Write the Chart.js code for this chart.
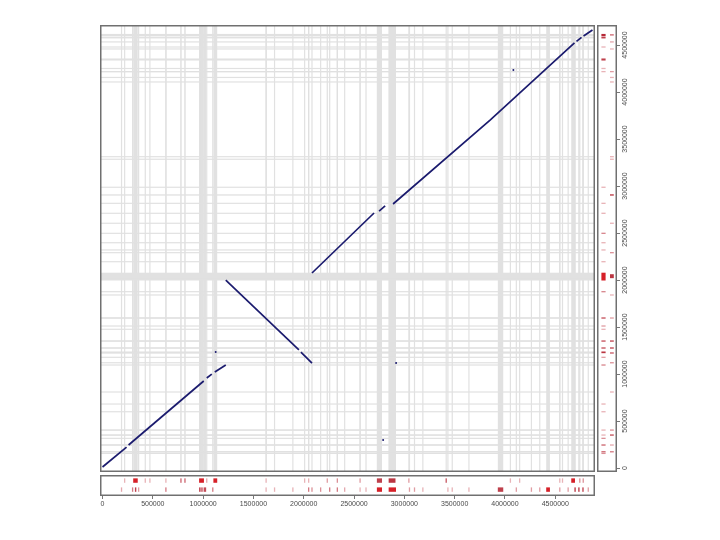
<!DOCTYPE html>
<html>
<head>
<meta charset="utf-8">
<script src="https://cdn.jsdelivr.net/npm/chart.js@4.4.1/dist/chart.umd.min.js"></script>
<style>
  html, body { margin: 0; padding: 0; background: #ffffff; }
  body { width: 720px; height: 540px; position: relative; overflow: hidden; }
  canvas { position: absolute; display: block; }
</style>
</head>
<body>
<canvas id="main" width="495" height="447" style="left:100px;top:25px"></canvas>
<canvas id="bottom" width="540" height="39" style="left:80px;top:475px"></canvas>
<canvas id="right" width="45" height="487" style="left:597px;top:5px"></canvas>
<script>
// ---------------- DATA ----------------
// tick labels (genome positions)
const xTicks = [0, 500000, 1000000, 1500000, 2000000, 2500000, 3000000, 3500000, 4000000, 4500000];
const yTicks = [0, 500000, 1000000, 1500000, 2000000, 2500000, 3000000, 3500000, 4000000, 4500000];

// alignment pieces: [x (query), y (reference)] vertices
const forwardBlock1 = [
  [[0, 11000], [239000, 223000]],
  [[259000, 245000], [1006000, 926000]],
  [[1036000, 958000], [1086000, 1000000]],
  [[1116000, 1021000], [1225000, 1096000]]
];
const invertedBlock = [
  [[1225000, 2000000], [1952000, 1256000]],
  [[1972000, 1234000], [2082000, 1117000]]
];
const forwardBlock2 = [
  [[2082000, 2075000], [2699000, 2713000]],
  [[2749000, 2734000], [2809000, 2788000]],
  [[2888000, 2809000], [3855000, 3703000], [4691000, 4522000]],
  [[4711000, 4538000], [4761000, 4581000]],
  [[4781000, 4596000], [4870000, 4660000]]
];
const strayHits = [[4084000, 4235000], [2789000, 298000], [2918000, 1117000], [1125000, 1234000]];

// bottom track (x genome): [start, end, intensity]
const xTrackRow1 = [
  [214000, 226000, 0.35], [305000, 350000, 1], [420000, 430000, 0.35], [466000, 476000, 0.35],
  [625000, 635000, 0.35], [772000, 787000, 0.6], [812000, 827000, 0.6], [960000, 1008000, 1],
  [1031000, 1041000, 0.4], [1102000, 1140000, 1], [1621000, 1631000, 0.35], [2004000, 2014000, 0.35],
  [2044000, 2054000, 0.35], [2229000, 2239000, 0.45], [2329000, 2339000, 0.5], [2555000, 2565000, 0.45],
  [2727000, 2778000, 0.85], [2844000, 2912000, 0.9], [3040000, 3050000, 0.45], [3410000, 3422000, 0.75],
  [4049000, 4059000, 0.35], [4141000, 4151000, 0.35], [4540000, 4550000, 0.35], [4567000, 4577000, 0.35],
  [4659000, 4696000, 1], [4739000, 4749000, 0.5], [4773000, 4783000, 0.5]
];
const xTrackRow2 = [
  [184000, 194000, 0.4], [294000, 304000, 0.6], [322000, 336000, 0.85], [354000, 364000, 0.45],
  [625000, 635000, 0.6], [960000, 975000, 0.85], [982000, 995000, 0.85], [1005000, 1030000, 0.8],
  [1091000, 1101000, 0.6], [1621000, 1631000, 0.35], [1705000, 1715000, 0.35], [1887000, 1897000, 0.35],
  [2044000, 2054000, 0.6], [2077000, 2087000, 0.5], [2163000, 2173000, 0.5], [2253000, 2263000, 0.6],
  [2329000, 2339000, 0.6], [2402000, 2412000, 0.4], [2555000, 2565000, 0.35], [2614000, 2624000, 0.35],
  [2727000, 2778000, 1], [2844000, 2917000, 1], [3046000, 3056000, 0.45], [3096000, 3106000, 0.45],
  [3179000, 3189000, 0.35], [3428000, 3438000, 0.35], [3471000, 3481000, 0.35], [3637000, 3647000, 0.35],
  [3929000, 3983000, 0.85], [4108000, 4118000, 0.45], [4258000, 4268000, 0.45], [4341000, 4351000, 0.45],
  [4410000, 4447000, 1], [4540000, 4550000, 0.45], [4623000, 4633000, 0.45], [4690000, 4704000, 0.85],
  [4728000, 4742000, 0.85], [4768000, 4783000, 0.75], [4823000, 4833000, 0.45]
];

// right track (y genome): [start, end, intensity]
const yTrackCol1 = [
  [4596000, 4618000, 0.95], [4570000, 4590000, 0.85], [4474000, 4484000, 0.35], [4335000, 4357000, 0.85],
  [4245000, 4256000, 0.35], [4212000, 4222000, 0.35], [2982000, 2992000, 0.35], [2811000, 2821000, 0.35],
  [2705000, 2715000, 0.35], [2492000, 2502000, 0.55], [2392000, 2402000, 0.35], [2315000, 2325000, 0.35],
  [2190000, 2200000, 0.35], [1995000, 2078000, 1], [1871000, 1881000, 0.55], [1590000, 1602000, 0.8],
  [1506000, 1516000, 0.45], [1471000, 1481000, 0.35], [1345000, 1357000, 0.8], [1271000, 1283000, 0.8],
  [1222000, 1240000, 0.9], [1173000, 1183000, 0.45], [1091000, 1101000, 0.55], [676000, 686000, 0.35],
  [594000, 604000, 0.35], [399000, 409000, 0.35], [346000, 356000, 0.35], [311000, 321000, 0.5],
  [240000, 250000, 0.7], [168000, 178000, 0.7], [151000, 161000, 0.5]
];
const yTrackCol2 = [
  [4600000, 4616000, 0.6], [4528000, 4538000, 0.4], [4453000, 4463000, 0.35], [4212000, 4222000, 0.45],
  [4150000, 4160000, 0.35], [4102000, 4112000, 0.35], [3307000, 3317000, 0.35], [3280000, 3290000, 0.35],
  [2898000, 2912000, 0.9], [2599000, 2609000, 0.35], [2286000, 2296000, 0.5], [2020000, 2062000, 0.9],
  [1836000, 1846000, 0.35], [1591000, 1601000, 0.45], [1346000, 1356000, 0.85], [1272000, 1282000, 0.85],
  [1219000, 1229000, 0.75], [1115000, 1125000, 0.5], [804000, 814000, 0.35], [399000, 409000, 0.5],
  [346000, 356000, 0.8], [240000, 250000, 0.4], [168000, 178000, 0.6]
];

// ---------------- CONFIG ----------------
const X_MIN = -25000, X_MAX = 4895000;
const Y_MIN = -42000, Y_MAX = 4713000;
const LINE_COLOR = '#1b1b6e';
const BAND_COLOR = '#e1e1e1';
const BOX_COLOR = '#707070';
const TEXT_COLOR = '#4a4a4a';
const FONT = { family: 'Liberation Sans, Arial, sans-serif', size: 7 };

function markColor(t) {
  const a = [236, 190, 194], b = [178, 30, 44];
  const k = Math.max(0, Math.min(1, (t - 0.3) / 0.7));
  const c = a.map((v, i) => Math.round(v + (b[i] - v) * k));
  if (t >= 1) return 'rgb(214,32,40)';
  return `rgb(${c[0]},${c[1]},${c[2]})`;
}

const boxPlugin = {
  id: 'box',
  afterDraw(chart) {
    const { ctx, chartArea: a } = chart;
    ctx.save();
    ctx.strokeStyle = BOX_COLOR;
    ctx.lineWidth = 1.5;
    ctx.strokeRect(a.left + 0.75, a.top + 0.75, a.right - a.left - 1.5, a.bottom - a.top - 1.5);
    ctx.restore();
  }
};

// main plot bands (vertical from x track, horizontal from y track)
const vBands = xTrackRow1.concat(xTrackRow2);
const hBands = yTrackCol1.concat(yTrackCol2);

const bandPlugin = {
  id: 'bands',
  beforeDatasetsDraw(chart) {
    const { ctx, chartArea: a, scales: { x, y } } = chart;
    ctx.save();
    ctx.fillStyle = BAND_COLOR;
    vBands.forEach(([s, e]) => {
      const p0 = x.getPixelForValue(s), p1 = x.getPixelForValue(e);
      const w = Math.max(1.2, p1 - p0);
      ctx.fillRect((p0 + p1) / 2 - w / 2, a.top, w, a.bottom - a.top);
    });
    hBands.forEach(([s, e]) => {
      const p0 = y.getPixelForValue(e), p1 = y.getPixelForValue(s);
      const h = Math.max(1.2, p1 - p0);
      ctx.fillRect(a.left, (p0 + p1) / 2 - h / 2, a.right - a.left, h);
    });
    ctx.restore();
  }
};

const lineSets = [];
[forwardBlock1, invertedBlock, forwardBlock2].forEach(block => {
  block.forEach(piece => {
    lineSets.push({
      type: 'scatter',
      data: piece.map(([px, py]) => ({ x: px, y: py })),
      showLine: true,
      borderColor: LINE_COLOR,
      borderWidth: 1.7,
      pointRadius: 0,
      fill: false
    });
  });
});
lineSets.push({
  type: 'scatter',
  data: strayHits.map(([px, py]) => ({ x: px, y: py })),
  showLine: false,
  pointRadius: 1,
  pointBackgroundColor: LINE_COLOR,
  pointBorderWidth: 0
});

const common = {
  responsive: false,
  animation: false,
  events: [],
  plugins: { legend: { display: false }, tooltip: { enabled: false } }
};

new Chart(document.getElementById('main'), {
  type: 'scatter',
  data: { datasets: lineSets },
  options: Object.assign({}, common, {
    layout: { autoPadding: false, padding: 0 },
    scales: {
      x: { type: 'linear', min: X_MIN, max: X_MAX, display: false },
      y: { type: 'linear', min: Y_MIN, max: Y_MAX, display: false }
    }
  }),
  plugins: [bandPlugin, boxPlugin]
});

const xTrackPlugin = {
  id: 'xtrack',
  beforeDatasetsDraw(chart) {
    const { ctx, scales: { x, y } } = chart;
    ctx.save();
    const rows = [[xTrackRow1, 0.63, 0.84], [xTrackRow2, 0.2, 0.41]];
    rows.forEach(([row, lo, hi]) => {
      const top = y.getPixelForValue(hi), bot = y.getPixelForValue(lo);
      row.forEach(([s, e, t]) => {
        const p0 = x.getPixelForValue(s), p1 = x.getPixelForValue(e);
        const w = Math.max(1.3, p1 - p0);
        ctx.fillStyle = markColor(t);
        ctx.fillRect((p0 + p1) / 2 - w / 2, top, w, bot - top);
      });
    });
    ctx.restore();
  }
};

new Chart(document.getElementById('bottom'), {
  type: 'scatter',
  data: { datasets: [] },
  options: Object.assign({}, common, {
    layout: { autoPadding: false, padding: { left: 20, right: 25, top: 0, bottom: 0 } },
    scales: {
      x: {
        type: 'linear', min: X_MIN, max: X_MAX, position: 'bottom',
        afterBuildTicks: s => { s.ticks = xTicks.map(v => ({ value: v })); },
        afterFit: s => { s.height = 18; },
        ticks: { callback: v => String(v), font: FONT, color: TEXT_COLOR, padding: 1, maxRotation: 0, minRotation: 0, autoSkip: false },
        grid: { drawOnChartArea: false, drawTicks: true, tickLength: 3, color: '#777' },
        border: { display: false }
      },
      y: { type: 'linear', min: 0, max: 1, display: false }
    }
  }),
  plugins: [xTrackPlugin, boxPlugin]
});

const yTrackPlugin = {
  id: 'ytrack',
  beforeDatasetsDraw(chart) {
    const { ctx, scales: { x, y } } = chart;
    ctx.save();
    const cols = [[yTrackCol1, 0.22, 0.43], [yTrackCol2, 0.65, 0.84]];
    cols.forEach(([col, lo, hi]) => {
      const left = x.getPixelForValue(lo), right = x.getPixelForValue(hi);
      col.forEach(([s, e, t]) => {
        const p0 = y.getPixelForValue(e), p1 = y.getPixelForValue(s);
        const h = Math.max(1.3, p1 - p0);
        ctx.fillStyle = markColor(t);
        ctx.fillRect(left, (p0 + p1) / 2 - h / 2, right - left, h);
      });
    });
    ctx.restore();
  }
};

new Chart(document.getElementById('right'), {
  type: 'scatter',
  data: { datasets: [] },
  options: Object.assign({}, common, {
    layout: { autoPadding: false, padding: { left: 0, right: 0, top: 20, bottom: 20 } },
    scales: {
      x: { type: 'linear', min: 0, max: 1, display: false },
      y: {
        type: 'linear', min: Y_MIN, max: Y_MAX, position: 'right',
        afterBuildTicks: s => { s.ticks = yTicks.map(v => ({ value: v })); },
        afterFit: s => { s.width = 25; },
        ticks: { callback: v => String(v), font: FONT, color: TEXT_COLOR, padding: -9, minRotation: 90, maxRotation: 90, crossAlign: 'center', autoSkip: false },
        grid: { drawOnChartArea: false, drawTicks: true, tickLength: 3, color: '#777' },
        border: { display: false }
      }
    }
  }),
  plugins: [yTrackPlugin, boxPlugin]
});
</script>
</body>
</html>
